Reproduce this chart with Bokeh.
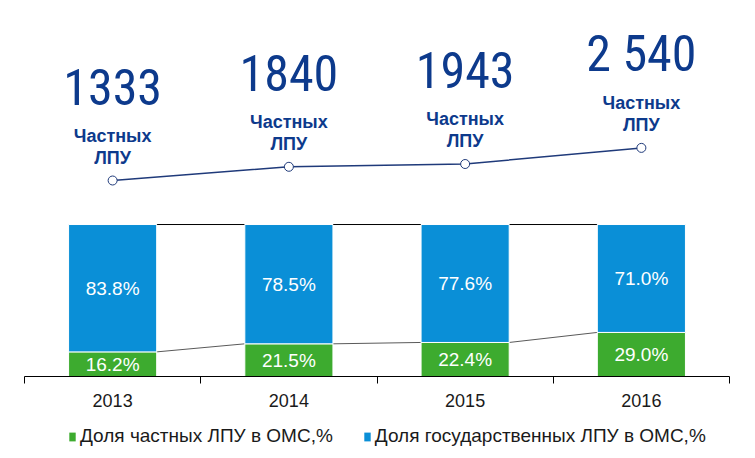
from bokeh.plotting import figure
from bokeh.layouts import column
from bokeh.models import (Range1d, LinearAxis, FixedTicker, ColumnDataSource,
                          Legend, LegendItem)
from bokeh.core.properties import value
from bokeh.embed import file_html
from bokeh.resources import INLINE

# ---- data ----
years = ["2013", "2014", "2015", "2016"]
private_share = [16.2, 21.5, 22.4, 29.0]
state_share = [83.8, 78.5, 77.6, 71.0]
private_count = [1333, 1840, 1943, 2540]
count_labels = ["1333", "1840", "1943", "2 540"]
sub_label_1 = ["Частных", "Частных", "Частных", "Частных"]
sub_label_2 = ["ЛПУ", "ЛПУ", "ЛПУ", "ЛПУ"]
legend_labels = ["Доля частных ЛПУ в ОМС,%", "Доля государственных ЛПУ в ОМС,%"]

GREEN = "#3dab2f"
BLUE = "#0a8fd7"
NAVY = "#0d3a8c"
FONT = "Liberation Sans"
NARROW = "Liberation Sans Narrow, Roboto Condensed, DejaVu Sans Condensed"

xc = [i + 0.5 for i in range(len(years))]
bw = 0.5

p = figure(frame_width=705, frame_height=376, output_backend="svg",
           toolbar_location=None, x_axis_type=None, y_axis_type=None,
           x_range=Range1d(0, len(years)), y_range=Range1d(0, 247.4),
           min_border_left=24, min_border_right=18, min_border_top=0,
           min_border_bottom=40)
p.outline_line_color = None
p.extra_y_ranges = {"cnt": Range1d(-5919, 7993)}

src = ColumnDataSource(dict(
    x=xc, private=private_share, state=state_share,
    pl=[f"{v:.1f}%" for v in private_share],
    sl=[f"{v:.1f}%" for v in state_share],
    py=[v / 2 for v in private_share],
    sy=[a + b / 2 for a, b in zip(private_share, state_share)],
    cnt=private_count, cl=count_labels, s1=sub_label_1, s2=sub_label_2,
))

# connector lines
n = len(years)
x0 = [xc[i] + bw / 2 for i in range(n - 1)]
x1 = [xc[i + 1] - bw / 2 for i in range(n - 1)]
tops = [a + b for a, b in zip(private_share, state_share)]
p.segment(x0=x0, y0=tops[:-1], x1=x1, y1=tops[1:], line_color="black", line_width=1)
p.segment(x0=x0, y0=private_share[:-1], x1=x1, y1=private_share[1:],
          line_color="#5a5a5a", line_width=1)

rs = p.vbar_stack(["private", "state"], x="x", width=bw, source=src,
                  color=[GREEN, BLUE], line_color="white", line_width=1)

p.text(x="x", y="py", text="pl", source=src, text_color="white",
       text_font=value(FONT), text_font_size="19px", text_align="center",
       text_baseline="middle")
p.text(x="x", y="sy", text="sl", source=src, text_color="white",
       text_font=value(FONT), text_font_size="19px", text_align="center",
       text_baseline="middle")

# top count line
p.line(x="x", y="cnt", source=src, y_range_name="cnt", line_color="#1f3a7a",
       line_width=1.5)
p.scatter(x="x", y="cnt", source=src, y_range_name="cnt", size=9,
          fill_color="white", line_color="#1f3a7a", line_width=1)

p.text(x="x", y="cnt", text="cl", source=src, y_range_name="cnt",
       y_offset=-94, text_color=NAVY, text_font=value(NARROW),
       text_font_size="50px", text_align="center", text_baseline="middle")
p.text(x="x", y="cnt", text="s1", source=src, y_range_name="cnt",
       y_offset=-45, text_color=NAVY, text_font=value(FONT),
       text_font_size="18px", text_font_style="bold", text_align="center",
       text_baseline="middle")
p.text(x="x", y="cnt", text="s2", source=src, y_range_name="cnt",
       y_offset=-23, text_color=NAVY, text_font=value(FONT),
       text_font_size="18px", text_font_style="bold", text_align="center",
       text_baseline="middle")

# x axis
ax = LinearAxis(ticker=FixedTicker(ticks=xc, minor_ticks=list(range(n + 1))),
                major_label_overrides={x: y for x, y in zip(xc, years)})
ax.axis_line_color = "black"
ax.major_tick_line_color = None
ax.major_tick_out = 0
ax.major_tick_in = 0
ax.minor_tick_line_color = "black"
ax.minor_tick_out = 7
ax.minor_tick_in = 0
ax.major_label_standoff = 10
ax.major_label_text_font = FONT
ax.major_label_text_font_size = "18px"
ax.major_label_text_color = "#1a1a1a"
p.add_layout(ax, "below")

# legend strip: zero-width swatch renderers only provide the legend glyphs
lsrc = ColumnDataSource(dict(x=xc, private=private_share, state=state_share))
lf = figure(width=747, height=40, output_backend="svg", toolbar_location=None,
            x_axis_type=None, y_axis_type=None, x_range=Range1d(0, len(years)),
            y_range=Range1d(500, 501), min_border=0)
lf.outline_line_color = None
lrs = lf.vbar_stack(["private", "state"], x="x", width=0, source=lsrc,
                    color=[GREEN, BLUE], line_color=None)
legend = Legend(items=[LegendItem(label=legend_labels[0], renderers=[lrs[0]]),
                       LegendItem(label=legend_labels[1], renderers=[lrs[1]])],
                orientation="horizontal", location=(44, 9),
                border_line_color=None, background_fill_alpha=0,
                glyph_width=8, glyph_height=11, label_standoff=4, spacing=30,
                padding=0, margin=0, label_text_font=FONT,
                label_text_font_size="19px", label_text_color="#1a1a1a")
lf.add_layout(legend, "center")

open("out.html", "w").write(file_html(column(p, lf, spacing=0), INLINE))
